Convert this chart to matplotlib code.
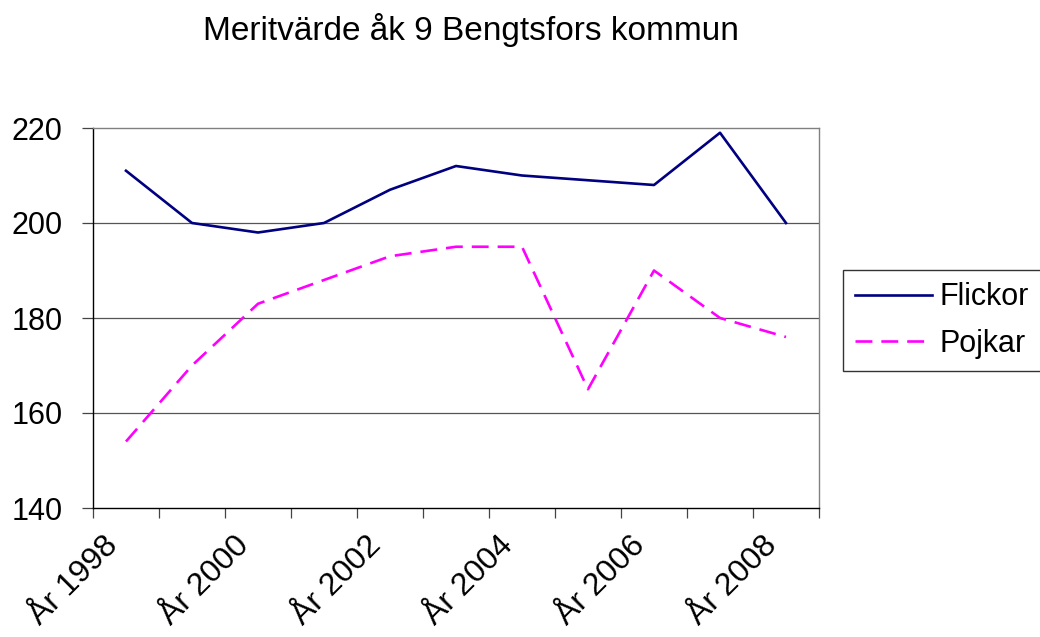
#!/usr/bin/env python3
import matplotlib
matplotlib.use("Agg")
import matplotlib.pyplot as plt
import matplotlib.transforms as mtransforms
import numpy as np

plt.rcParams["font.family"] = ["Liberation Sans", "DejaVu Sans"]

years = ["År 1998", "År 1999", "År 2000", "År 2001", "År 2002", "År 2003",
         "År 2004", "År 2005", "År 2006", "År 2007", "År 2008"]
flickor = [211, 200, 198, 200, 207, 212, 210, 209, 208, 219, 200]
pojkar = [154, 170, 183, 188, 193, 195, 195, 165, 190, 180, 176]
yticks = [140, 160, 180, 200, 220]


def main():
    fig = plt.figure(figsize=(10.4, 6.37), dpi=100)
    ax = fig.add_axes([93 / 1040, 1 - 508 / 637, 726 / 1040, 380 / 637])

    x = np.arange(len(years))
    ax.plot(x, flickor, color="#000080", lw=1.9, label="Flickor")
    ax.plot(x, pojkar, color="#FF00FF", lw=1.9, dashes=(6.4, 3.4), label="Pojkar")

    ax.set_xlim(-0.5, len(years) - 0.5)
    ax.set_ylim(140, 220)
    ax.set_yticks(yticks)
    ax.set_yticklabels([str(v) for v in yticks], fontsize=22)
    for v in yticks[1:-1]:
        ax.axhline(v, color="#555555", lw=0.9, zorder=0)

    # category boundaries get the tick marks, every second category a label
    ax.set_xticks(np.arange(-0.5, len(years)), labels=[])
    ax.set_xticks(x[::2], labels=years[::2], minor=True)
    ax.tick_params(axis="x", which="major", length=7.5, width=0.9, color="#444444")
    ax.tick_params(axis="x", which="minor", length=0, pad=16, labelsize=23)
    shift = mtransforms.ScaledTranslation(-13 / 100, -11 / 100, fig.dpi_scale_trans)
    for lab in ax.get_xticklabels(minor=True):
        lab.set_rotation(45)
        lab.set_ha("right")
        lab.set_va("center")
        lab.set_rotation_mode("anchor")
        lab.set_transform(lab.get_transform() + shift)
    ax.tick_params(axis="y", length=8, width=0.9, pad=14, color="#444444")

    for s in ["left", "bottom"]:
        ax.spines[s].set_color("black")
        ax.spines[s].set_linewidth(1.0)
    for s in ["top", "right"]:
        ax.spines[s].set_color("#808080")
        ax.spines[s].set_linewidth(1.0)

    fig.text(471 / 1040, 1 - 30 / 637, "Meritvärde åk 9 Bengtsfors kommun",
             ha="center", va="center", fontsize=24)

    leg = fig.legend(loc="upper left", bbox_to_anchor=(843 / 1040, 1 - 270 / 637),
                     fontsize=22, frameon=True, fancybox=False, handlelength=2.5,
                     handletextpad=0.26, labelspacing=0.55, borderpad=0.4,
                     borderaxespad=0)
    leg.get_frame().set_edgecolor("black")
    leg.get_frame().set_linewidth(1.0)

    fig.savefig("out.png", dpi=100)
    plt.close(fig)


if __name__ == "__main__":
    main()
